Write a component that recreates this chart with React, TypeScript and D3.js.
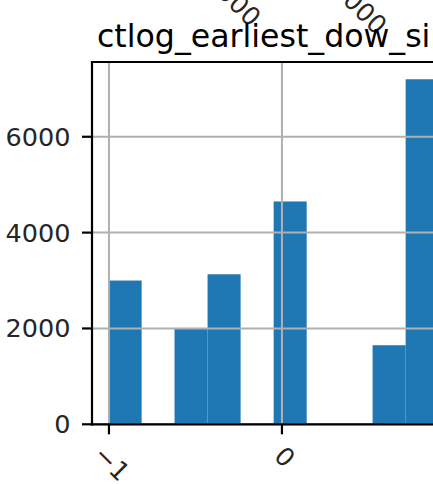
import React from 'react';
import * as d3 from 'd3';

// histogram bins (data units) and counts
const binEdges = [-1.002, -0.811, -0.621, -0.430, -0.239, -0.048, 0.143, 0.333, 0.524, 0.715, 0.906];
const counts = [3000, 0, 1990, 3130, 0, 4650, 0, 0, 1650, 7200];
const xTicks = [-1, 0];
const xTickLabels = ['\u22121', '0'];
const yTicks = [0, 2000, 4000, 6000];
const yTickLabels = ['0', '2000', '4000', '6000'];
const title = 'ctlog_earliest_dow_sin';
// clipped tick labels belonging to the panel above
const aboveLabels = ['5000', '10000'];

const FONT = '"DejaVu Sans", sans-serif';

export default function App() {
  const W = 433, H = 484;
  const left = 92, top = 62, bottom = 424.3, right = 470;
  const x = d3.scaleLinear().domain([-1.098, 1.087]).range([left, right]);
  const y = d3.scaleLinear().domain([0, 7560]).range([bottom, top]);
  const fs = 25.5;
  const tickLen = 10;
  const gridColor = '#b0b0b0';

  const bars = counts.map((c, i) => ({ x0: binEdges[i], x1: binEdges[i + 1], c })).filter(b => b.c > 0);

  const labelW = (s: string) => {
    let w = 0;
    for (const ch of s) w += ch === '\u2212' ? 0.7 * fs : 0.636 * fs;
    return w;
  };
  const lineH = 1.17 * fs;

  const abovePos = [
    { x: 250, y: 28 },
    { x: 376, y: 36 },
  ];

  return (
    <svg width={W} height={H} style={{ position: 'absolute', left: 0, top: 0, background: '#fff' }}
      fontFamily={FONT}>
      <rect x={0} y={0} width={W} height={H} fill="#fff" />
      {/* bars */}
      {bars.map((b, i) => (
        <rect key={i} x={x(b.x0)} y={y(b.c)} width={x(b.x1) - x(b.x0)} height={y(0) - y(b.c)} fill="#1f77b4" />
      ))}
      {/* grid above bars (matplotlib default zorder) */}
      {xTicks.map((t, i) => (
        <line key={'gx' + i} x1={x(t)} x2={x(t)} y1={top} y2={bottom} stroke={gridColor} strokeWidth={2} />
      ))}
      {yTicks.map((t, i) => (
        <line key={'gy' + i} x1={left} x2={right} y1={y(t)} y2={y(t)} stroke={gridColor} strokeWidth={2} />
      ))}
      {/* spines */}
      <line x1={left} x2={left} y1={top} y2={bottom} stroke="#000" strokeWidth={2.2} strokeLinecap="square" />
      <line x1={left} x2={right} y1={top} y2={top} stroke="#000" strokeWidth={2.2} strokeLinecap="square" />
      <line x1={left} x2={right} y1={bottom} y2={bottom} stroke="#000" strokeWidth={2.2} strokeLinecap="square" />
      <line x1={right} x2={right} y1={top} y2={bottom} stroke="#000" strokeWidth={2.2} strokeLinecap="square" />
      {/* y ticks */}
      {yTicks.map((t, i) => (
        <g key={'yt' + i}>
          <line x1={left - tickLen} x2={left} y1={y(t)} y2={y(t)} stroke="#000" strokeWidth={2.2} />
          <text x={left - tickLen - 11.5} y={y(t)} textAnchor="end" dominantBaseline="central" fontSize={fs} fill="#262626">{yTickLabels[i]}</text>
        </g>
      ))}
      {/* x ticks */}
      {xTicks.map((t, i) => {
        const cx = x(t) + 3;
        const cy = 440.5 + (labelW(xTickLabels[i]) + lineH) / (2 * Math.SQRT2);
        return (
          <g key={'xt' + i}>
            <line x1={x(t)} x2={x(t)} y1={bottom} y2={bottom + tickLen} stroke="#000" strokeWidth={2.2} />
            <text x={cx} y={cy} textAnchor="middle" dominantBaseline="central" fontSize={fs} fill="#262626"
              transform={`rotate(45 ${cx} ${cy})`}>{xTickLabels[i]}</text>
          </g>
        );
      })}
      {/* clipped labels of the panel above */}
      {aboveLabels.map((s, i) => (
        <text key={'ab' + i} x={abovePos[i].x} y={abovePos[i].y} textAnchor="end" fontSize={fs} fill="#262626"
          transform={`rotate(45 ${abovePos[i].x} ${abovePos[i].y})`}>{s}</text>
      ))}
      {/* title */}
      <text x={97} y={46.5} fontSize={31.6} fill="#000">{title}</text>
    </svg>
  );
}
